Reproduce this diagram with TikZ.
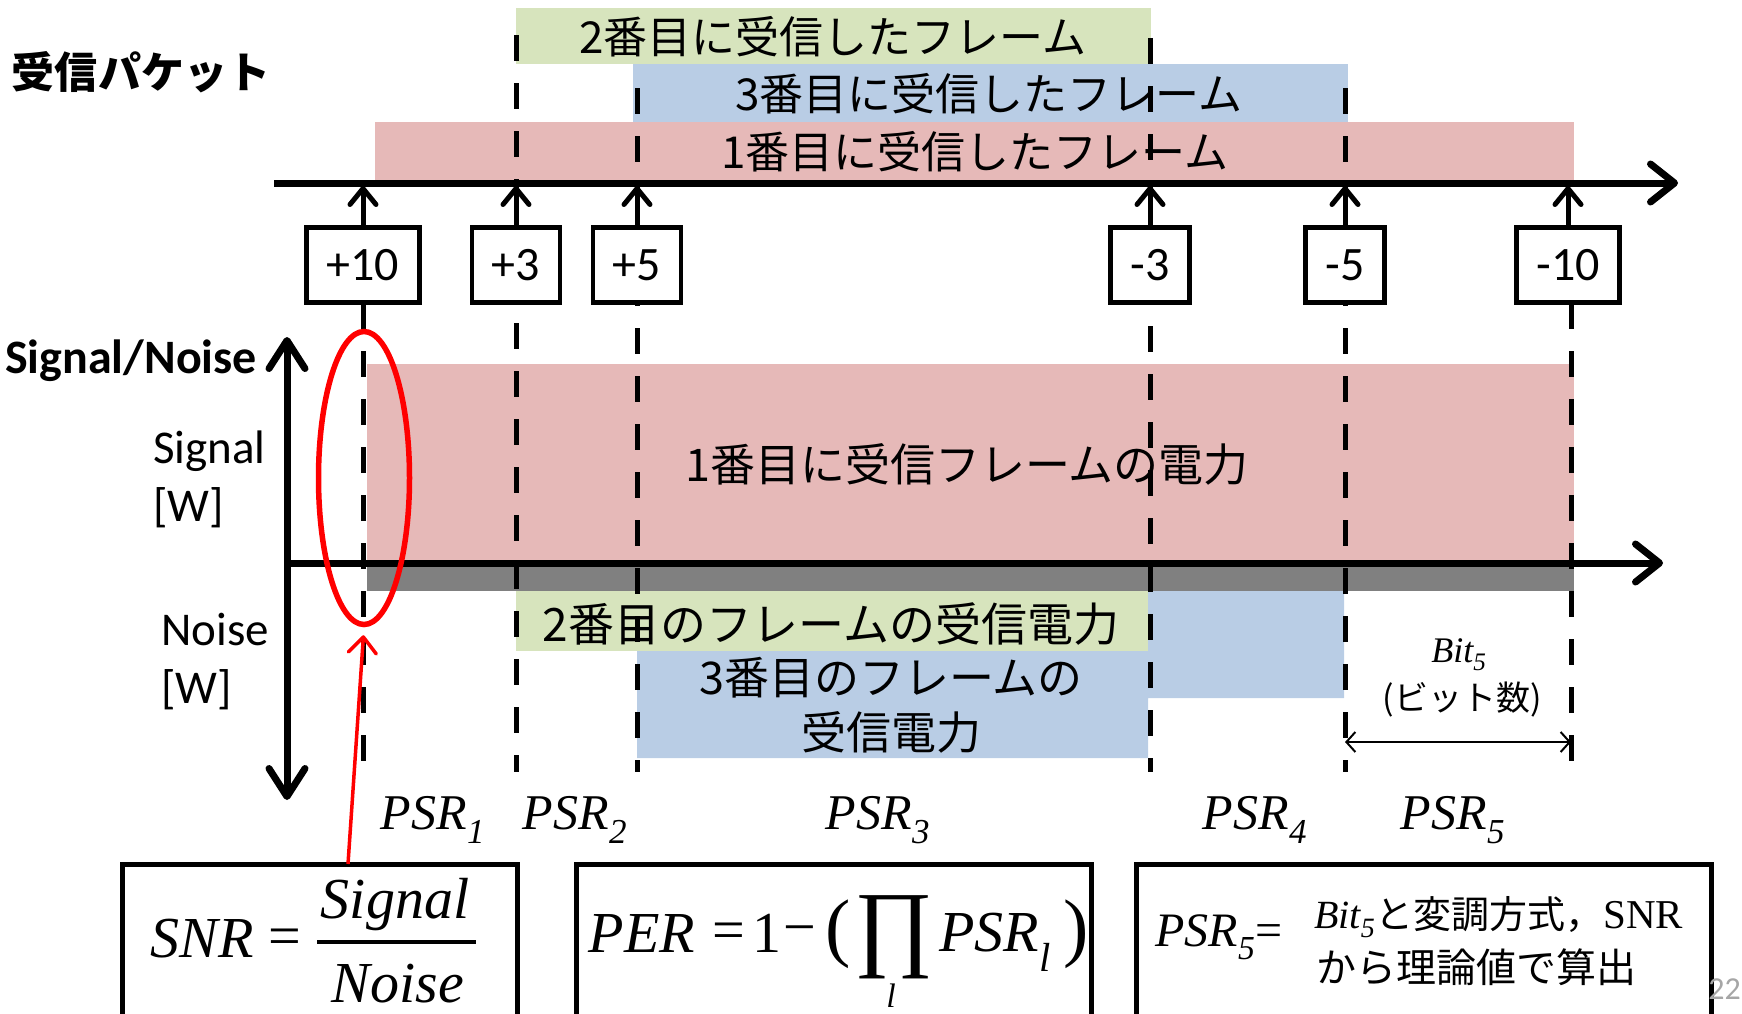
\documentclass[tikz,border=0pt]{standalone}
\usepackage{fontspec}
\setmainfont{Carlito}
\newfontfamily\jp{Noto Sans CJK JP}
\newfontfamily\tms{Liberation Serif}
\newcommand\tmi{\tms\itshape}
\newcommand\fs[2]{\fontsize{#1}{#2}\selectfont}
\usetikzlibrary{arrows.meta,shapes.geometric}
\definecolor{grn}{HTML}{D7E4BD}
\definecolor{blu}{HTML}{B9CDE5}
\definecolor{rd}{HTML}{E6B9B8}
\tikzset{
  bartext/.style={font=\jp\fs{44}{52}},
  axis/.style={line width=7pt, -{Straight Barb[round,length=24pt,width=38pt]}},
  cut/.style={line width=5pt, dash pattern=on 26pt off 22pt},
  tagbox/.style={draw, fill=white, line width=4.5pt, inner xsep=20pt, minimum height=75pt, font=\fs{48}{56}},
  tick/.style={line width=5pt, shorten >=3pt, -{Straight Barb[round,length=16pt,width=26pt]}},
  psr/.style={font=\tmi\fs{50}{56}},
  formbox/.style={draw, line width=5pt},
  formula/.style={font=\tmi\fs{58}{64}, inner sep=0pt},
  upright/.style={font=\tms\fs{58}{64}, inner sep=0pt}
}
\begin{document}
\begin{tikzpicture}[x=1pt,y=-1pt]
\useasboundingbox (0,0) rectangle (1742,1013);
\clip (0,0) rectangle (1742,1013);

% received frames
\fill[grn] (516,8) rectangle (1151,64);
\fill[blu] (633,64) rectangle (1348,122);
\fill[rd] (375,122) rectangle (1574,181);
\node[bartext] (f2) at (833,37) {2番目に受信したフレーム};
\node[bartext] (f3) at (989,94) {3番目に受信したフレーム};
\node[bartext] (f1) at (975,152) {1番目に受信したフレーム};
\node[font=\jp\bfseries\fs{43}{50}] (title) at (141,72) {受信パケット};

% received power
\fill[rd] (367,364) rectangle (1574,561);
\fill[gray] (367,566) rectangle (1574,591);
\fill[blu] (637,591) -- (1344,591) -- (1344,698) -- (1148,698) -- (1148,758) -- (637,758) -- cycle;
\fill[grn] (516,591) rectangle (1148,651);
\node[font=\jp\fs{45}{52}] (p1) at (967,464) {1番目に受信フレームの電力};
\node[font=\jp\fs{46}{52}] (p2) at (831,624) {2番目のフレームの受信電力};
\node[font=\jp\fs{45}{55}, align=center] (p3) at (891,705) {3番目のフレームの\\受信電力};

% boundaries
\foreach \x/\y in {363/303, 516/35, 637/88, 1150/38, 1345/88, 1571/303}
  \draw[cut] (\x,\y) -- (\x,772);

% axes
\coordinate (tstart) at (274,183);
\coordinate (tend) at (1678,183);
\draw[axis] (tstart) -- (tend);
\coordinate (vlow) at (287,800);
\coordinate (vhigh) at (287,337);
\coordinate (hend) at (1663,563);
\draw[axis, {Straight Barb[round,length=28pt,width=36pt]}-{Straight Barb[round,length=28pt,width=36pt]}] (vlow) -- (vhigh);
\draw[axis] (vlow |- hend) -- (hend);
\node[anchor=west, font=\bfseries\fs{48}{56}, inner sep=0pt] (sn) at (5,361) {Signal/Noise};
\node[anchor=west, align=left, font=\fs{47}{58}, inner sep=0pt] (sigw) at (153,479) {Signal\\{[W]}};
\node[anchor=west, align=left, font=\fs{47}{58}, inner sep=0pt] (noiw) at (161,662) {Noise\\{[W]}};

% PSR changes
\node[tagbox] (p10) at (363,265) {+10};
\node[tagbox] (p3) at (516,265) {+3};
\node[tagbox] (p5) at (637,265) {+5};
\node[tagbox] (m3) at (1150,265) {-3};
\node[tagbox] (m5) at (1345,265) {-5};
\node[tagbox] (m10) at (1568,265) {-10};
\foreach \b in {p10,p3,p5,m3,m5,m10}
  \draw[tick] (\b.north) -- (\b.north |- tstart);

% PSR labels
\foreach \x/\i in {433/1, 575/2, 878/3, 1255/4, 1453/5}
  \node[psr] (psr\i) at (\x,820) {PSR\textsubscript{\i}};
\node[font=\tmi\fs{36}{40}] (bitn) at (1459,655) {Bit\textsubscript{5}};
\node[font=\jp\fs{34}{40}] (bitj) at (1462,700) {(ビット数)};
\coordinate (bl) at (1345,742);
\coordinate (br) at (1571,742);
\draw[line width=2pt, {Straight Barb[length=9pt,width=20pt]}-{Straight Barb[length=9pt,width=20pt]}] (bl) -- (br);

% formulas
\draw[formbox] (122,864) rectangle (517,1040);
\draw[formbox] (576,864) rectangle (1091,1040);
\draw[formbox] (1136,864) rectangle (1711,1040);

\node[formula] (snr) at (202,939) {SNR};
\node[upright] (eq1) at (285,942) {=};
\node[formula] (sig) at (395,905) {Signal};
\node[formula] (noi) at (398,984) {Noise};
\draw[line width=3.5pt] (317,942) -- (476,942);

\node[formula] (per) at (642,933) {PER};
\node[upright] (eq2) at (729,936) {=};
\node[upright] (one) at (767,933) {1};
\node[upright] (minus) at (800,936) {−};
\node[font=\tms\fs{76}{80}, inner sep=0pt] (lp) at (838,934) {(};
\node[font=\tms\fs{96}{100}, inner sep=0pt] (prod) at (894,937) {∏};
\node[font=\tmi\fs{34}{38}, inner sep=0pt] (idx) at (891,996) {l};
\node[formula] (psrl) at (995,942) {PSR\textsubscript{l}};
\node[font=\tms\fs{76}{80}, inner sep=0pt] (rp) at (1076,934) {)};

\node[font=\tmi\fs{48}{54}, inner sep=0pt] (psr5eq) at (1219,937) {PSR\textsubscript{5}{\upshape =}};
\node[anchor=west, font=\jp\fs{38}{44}, inner sep=0pt] (how1) at (1314,917) {{\tmi\fs{40}{44}Bit\textsubscript{5}}と変調方式，{\tms\fs{41}{44}SNR}};
\node[anchor=west, font=\jp\fs{40}{44}, inner sep=0pt] (how2) at (1316,967) {から理論値で算出};

% highlight
\node[draw=red, line width=5.5pt, ellipse, minimum width=91pt, minimum height=293pt, inner sep=0pt] (ring) at (364,478) {};
\coordinate (cue) at (348,864);
\draw[red, line width=3.5pt, shorten >=8pt, -{Straight Barb[round,length=16pt,width=28pt]}] (cue) -- (ring.south);

\node[anchor=east, text=gray!70, font=\fs{32}{38}, inner sep=1pt] (pg) at (1742,989) {22};
\end{tikzpicture}
\end{document}
